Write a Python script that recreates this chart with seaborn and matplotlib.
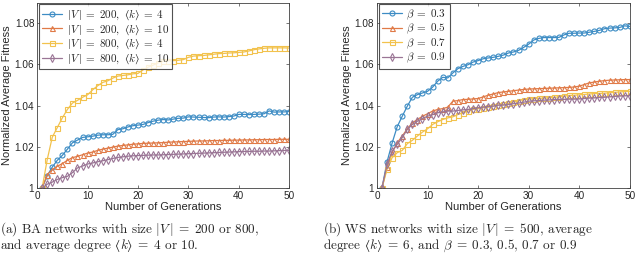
import pandas as pd
import matplotlib
matplotlib.use('Agg')
import matplotlib.pyplot as plt
import seaborn as sns

# generations on the x axis
gens = list(range(1, 51))

# (a) BA networks
ba_200_4 = [1.0, 1.0059, 1.0101, 1.0134, 1.0158, 1.0188, 1.0219, 1.0232, 1.0245, 1.0248,
            1.0251, 1.0256, 1.0258, 1.0258, 1.026, 1.0283, 1.0287, 1.0296, 1.0302, 1.0305,
            1.0308, 1.0317, 1.0324, 1.0329, 1.0332, 1.033, 1.0334, 1.0338, 1.0339, 1.0345,
            1.0344, 1.0343, 1.0342, 1.0341, 1.0344, 1.0345, 1.0344, 1.0346, 1.0349, 1.0357,
            1.0357, 1.0356, 1.0357, 1.0358, 1.036, 1.0374, 1.0368, 1.0369, 1.0369, 1.0371]
ba_200_10 = [1.0, 1.0064, 1.0089, 1.0105, 1.0118, 1.0134, 1.0147, 1.0153, 1.0161, 1.0169,
             1.0174, 1.0182, 1.0188, 1.0193, 1.0198, 1.0203, 1.0206, 1.0209, 1.0212, 1.0214,
             1.0216, 1.0217, 1.0218, 1.0219, 1.022, 1.0222, 1.0223, 1.0224, 1.0225, 1.0226,
             1.0227, 1.0228, 1.0228, 1.0229, 1.023, 1.023, 1.0231, 1.0231, 1.0232, 1.0232,
             1.0233, 1.0233, 1.0234, 1.0234, 1.0235, 1.0235, 1.0235, 1.0236, 1.0236, 1.0236]
ba_800_4 = [1.0, 1.0137, 1.0246, 1.0293, 1.034, 1.0381, 1.0412, 1.0425, 1.044, 1.0452,
            1.0476, 1.0496, 1.0512, 1.052, 1.0533, 1.0543, 1.0546, 1.0549, 1.0554, 1.0556,
            1.0573, 1.0586, 1.0596, 1.0607, 1.0615, 1.0617, 1.0618, 1.062, 1.0623, 1.0634,
            1.064, 1.0642, 1.0643, 1.0646, 1.0649, 1.0652, 1.0653, 1.0655, 1.0656, 1.0658,
            1.066, 1.0665, 1.0671, 1.0675, 1.0678, 1.068, 1.068, 1.068, 1.068, 1.0679]
ba_800_10 = [1.0, 1.0018, 1.0028, 1.0041, 1.005, 1.0056, 1.0074, 1.0097, 1.0106, 1.0116,
             1.0121, 1.0127, 1.0132, 1.0137, 1.0143, 1.0148, 1.0151, 1.0154, 1.0156, 1.0157,
             1.0158, 1.0159, 1.016, 1.016, 1.0161, 1.0162, 1.0163, 1.0164, 1.0165, 1.0166,
             1.0167, 1.0168, 1.0169, 1.017, 1.0171, 1.0172, 1.0173, 1.0174, 1.0175, 1.0176,
             1.0177, 1.0177, 1.0178, 1.0178, 1.0179, 1.0179, 1.018, 1.0181, 1.0182, 1.0182]
ba_labels = ['$|V\\,|\\;=\\;200,\\ \u27e8k\u27e9\\;=\\;4$', '$|V\\,|\\;=\\;200,\\ \u27e8k\u27e9\\;=\\;10$',
             '$|V\\,|\\;=\\;800,\\ \u27e8k\u27e9\\;=\\;4$', '$|V\\,|\\;=\\;800,\\ \u27e8k\u27e9\\;=\\;10$']

# (b) WS networks
ws_03 = [1.0, 1.0127, 1.0218, 1.0297, 1.0348, 1.0397, 1.044, 1.0453, 1.0461, 1.0469,
         1.0489, 1.0518, 1.0537, 1.0534, 1.0558, 1.0579, 1.059, 1.0598, 1.0611, 1.0618,
         1.0627, 1.0631, 1.0634, 1.0639, 1.0645, 1.0655, 1.066, 1.0668, 1.0682, 1.0698,
         1.0718, 1.0726, 1.073, 1.073, 1.073, 1.0731, 1.0743, 1.0751, 1.0751, 1.0752,
         1.0752, 1.0756, 1.076, 1.0765, 1.0773, 1.0776, 1.0777, 1.0779, 1.0787, 1.0784]
ws_05 = [1.0, 1.0103, 1.0171, 1.0219, 1.0252, 1.0287, 1.0316, 1.0332, 1.0348, 1.036,
         1.0373, 1.0381, 1.0385, 1.0392, 1.0421, 1.0424, 1.0429, 1.043, 1.0432, 1.0434,
         1.0442, 1.045, 1.0456, 1.0463, 1.0466, 1.0469, 1.0472, 1.0475, 1.0478, 1.048,
         1.0481, 1.0482, 1.0483, 1.0484, 1.0485, 1.0486, 1.0487, 1.0488, 1.049, 1.0494,
         1.0502, 1.051, 1.0514, 1.0518, 1.0521, 1.0523, 1.0524, 1.0525, 1.0526, 1.0526]
ws_07 = [1.0, 1.009, 1.0147, 1.0171, 1.0182, 1.0215, 1.0231, 1.0252, 1.0271, 1.0287,
         1.0308, 1.0321, 1.0332, 1.034, 1.0345, 1.0356, 1.0365, 1.0373, 1.0381, 1.0385,
         1.0389, 1.0392, 1.0397, 1.0402, 1.0405, 1.041, 1.0418, 1.0424, 1.0428, 1.0432,
         1.0433, 1.0435, 1.0436, 1.0438, 1.044, 1.0442, 1.0446, 1.0449, 1.045, 1.0452,
         1.0454, 1.0456, 1.0458, 1.0459, 1.046, 1.0462, 1.0464, 1.0466, 1.0468, 1.0469]
ws_09 = [1.0, 1.0115, 1.0179, 1.0211, 1.0244, 1.0284, 1.0308, 1.0324, 1.0337, 1.0348,
         1.0356, 1.0365, 1.0369, 1.0373, 1.0373, 1.0376, 1.0379, 1.0381, 1.0385, 1.0389,
         1.0392, 1.0395, 1.0397, 1.0402, 1.0402, 1.0405, 1.0409, 1.0412, 1.0416, 1.0421,
         1.0423, 1.0424, 1.0426, 1.0427, 1.0429, 1.043, 1.043, 1.0431, 1.0431, 1.0432,
         1.0434, 1.0436, 1.0437, 1.0439, 1.044, 1.0442, 1.0444, 1.0446, 1.0447, 1.0448]
ws_labels = [r'$\beta\;=\;0.3$', r'$\beta\;=\;0.5$', r'$\beta\;=\;0.7$', r'$\beta\;=\;0.9$']

colors = ['#3d8cc4', '#e07a47', '#f2c24d', '#9a7595']
markers = ['o', '^', 's', 'd']

sns.set_style('ticks')
plt.rcParams['font.family'] = ['Liberation Sans', 'DejaVu Sans']
plt.rcParams['mathtext.fontset'] = 'cm'
plt.rcParams['xtick.direction'] = 'in'
plt.rcParams['ytick.direction'] = 'in'


def make_frame(series, labels):
    rows = []
    for vals, lab in zip(series, labels):
        for g, v in zip(gens, vals):
            rows.append({'gen': g, 'fit': v, 'series': lab})
    return pd.DataFrame(rows)


def draw_panel(ax, series, labels):
    df = make_frame(series, labels)
    sns.lineplot(data=df, x='gen', y='fit', hue='series', style='series',
                 palette=dict(zip(labels, colors)), markers=dict(zip(labels, markers)),
                 dashes=False, legend=False, ax=ax, linewidth=0.9, markersize=3.6)
    for line, c in zip(ax.lines, colors):
        line.set_markerfacecolor('none')
        line.set_markeredgecolor(c)
        line.set_markeredgewidth(0.8)
    leg = ax.legend(ax.lines, labels, loc='upper left', fontsize=8, frameon=True,
                    fancybox=False, edgecolor='#262626', handlelength=1.8,
                    borderpad=0.3, labelspacing=0.02, handletextpad=0.4,
                    borderaxespad=0.15)
    leg.get_frame().set_linewidth(0.8)
    ax.set_xlim(0, 50)
    ax.set_ylim(1, 1.09)
    ax.set_xticks([0, 10, 20, 30, 40, 50])
    ax.set_yticks([1, 1.02, 1.04, 1.06, 1.08])
    ax.set_yticklabels(['1', '1.02', '1.04', '1.06', '1.08'])
    ax.tick_params(top=True, right=True, labelsize=7.2, length=2.5, width=0.5,
                   colors='#404040', labelcolor='#262626', pad=2)
    for s in ax.spines.values():
        s.set_linewidth(0.6)
        s.set_color('#404040')
    ax.set_xlabel('Number of Generations', fontsize=8, color='#262626', labelpad=1)
    ax.set_ylabel('Normalized Average Fitness', fontsize=8, color='#262626', labelpad=2)


fig = plt.figure(figsize=(6.4, 2.56), dpi=100)
ax1 = fig.add_axes([0.058, 0.266, 0.394, 0.724])
ax2 = fig.add_axes([0.589, 0.266, 0.395, 0.724])

draw_panel(ax1, [ba_200_4, ba_200_10, ba_800_4, ba_800_10], ba_labels)
draw_panel(ax2, [ws_03, ws_05, ws_07, ws_09], ws_labels)

cap = dict(fontsize=9.5, family='cmr10', va='center', ha='left')
fig.text(0.0, 1 - 229 / 256, '(a) BA networks with size $|V\\,|\\;=\\;200$ or 800,', **cap)
fig.text(0.0, 1 - 246 / 256, 'and average degree $\u27e8k\u27e9\\;=\\;4$ or 10.', **cap)
fig.text(0.505, 1 - 229 / 256, '(b) WS networks with size $|V\\,|\\;=\\;500$, average', **cap)
fig.text(0.505, 1 - 246 / 256, 'degree $\u27e8k\u27e9\\;=\\;6$, and $\\beta\\;=\\;0.3$, 0.5, 0.7 or 0.9', **cap)

fig.savefig('out.png', dpi=100)
